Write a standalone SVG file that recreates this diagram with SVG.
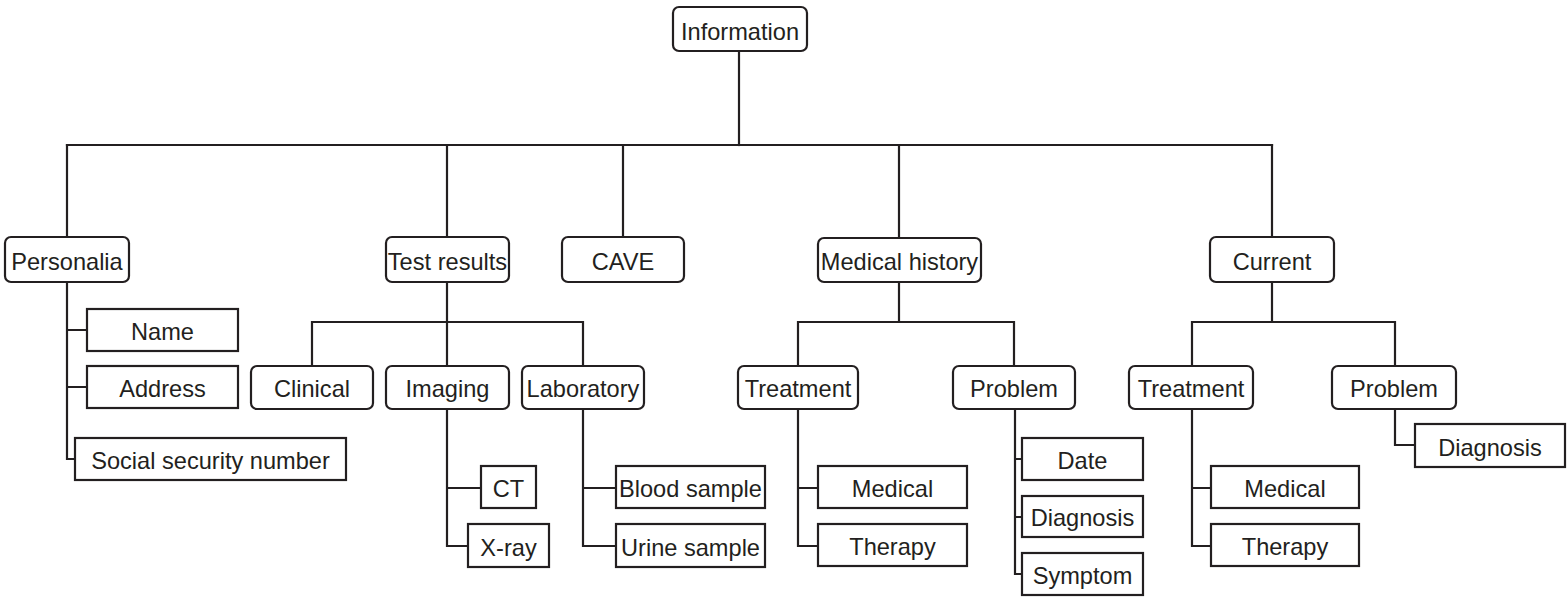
<svg xmlns="http://www.w3.org/2000/svg" width="1567" height="600" viewBox="0 0 1567 600">
  <style>
    .box { fill: #ffffff; stroke: #231f20; stroke-width: 2.2; }
    .lbl { font-family: "Liberation Sans", Arial, sans-serif; font-size: 23.6px; fill: #231f20; text-anchor: middle; }
    .wire { fill: none; stroke: #231f20; stroke-width: 2.2; stroke-linecap: square; stroke-linejoin: miter; }
  </style>
  <rect width="1567" height="600" fill="#ffffff"/>

  <!-- connectors -->
  <g id="connectors" class="wire">
    <path d="M739,51 V145"/>
    <path d="M67,145 H1272"/>
    <path d="M67,145 V237 M447,145 V237 M623,145 V237 M899,145 V238 M1272,145 V237"/>
    <!-- Personalia -->
    <path d="M67,282 V459 H75 M67,330 H87 M67,387 H87"/>
    <!-- Test results -->
    <path d="M447,282 V322 M312,322 H583 M312,322 V366 M447,322 V366 M583,322 V366"/>
    <path d="M447,409 V546 H468 M447,488 H481"/>
    <path d="M583,409 V546 H616 M583,488 H616"/>
    <!-- Medical history -->
    <path d="M899,282 V322 M798,322 H1014 M798,322 V366 M1014,322 V366"/>
    <path d="M798,409 V546 H818 M798,488 H818"/>
    <path d="M1015,409 V574 H1022 M1015,459 H1022 M1015,517 H1022"/>
    <!-- Current -->
    <path d="M1272,282 V322 M1192,322 H1395 M1192,322 V366 M1395,322 V366"/>
    <path d="M1192,409 V546 H1211 M1192,488 H1211"/>
    <path d="M1395,409 V445 H1415"/>
  </g>

  <!-- root -->
  <g id="information"><rect class="box" x="673" y="7" width="134" height="44" rx="6"/><text class="lbl" x="740" y="40">Information</text></g>

  <!-- first level -->
  <g id="personalia"><rect class="box" x="5" y="237" width="124" height="45" rx="6"/><text class="lbl" x="67" y="270">Personalia</text></g>
  <g id="test-results"><rect class="box" x="386" y="237" width="123" height="45" rx="6"/><text class="lbl" x="447.5" y="270">Test results</text></g>
  <g id="cave"><rect class="box" x="562" y="237" width="122" height="45" rx="6"/><text class="lbl" x="623" y="270">CAVE</text></g>
  <g id="medical-history"><rect class="box" x="818" y="238" width="163" height="44" rx="6"/><text class="lbl" x="899.5" y="270">Medical history</text></g>
  <g id="current"><rect class="box" x="1210" y="237" width="124" height="45" rx="6"/><text class="lbl" x="1272" y="270">Current</text></g>

  <!-- Personalia items -->
  <g id="name"><rect class="box" x="87" y="309" width="151" height="42"/><text class="lbl" x="162.5" y="340">Name</text></g>
  <g id="address"><rect class="box" x="87" y="366" width="151" height="42"/><text class="lbl" x="162.5" y="397">Address</text></g>
  <g id="ssn"><rect class="box" x="75" y="438" width="271" height="42"/><text class="lbl" x="210.5" y="469">Social security number</text></g>

  <!-- Test results items -->
  <g id="clinical"><rect class="box" x="251" y="366" width="122" height="43" rx="6"/><text class="lbl" x="312" y="397">Clinical</text></g>
  <g id="imaging"><rect class="box" x="386" y="366" width="123" height="43" rx="6"/><text class="lbl" x="447.5" y="397">Imaging</text></g>
  <g id="laboratory"><rect class="box" x="522" y="366" width="122" height="43" rx="6"/><text class="lbl" x="583" y="397">Laboratory</text></g>
  <g id="ct"><rect class="box" x="481" y="466" width="55" height="42"/><text class="lbl" x="508.5" y="497">CT</text></g>
  <g id="x-ray"><rect class="box" x="468" y="524" width="81" height="43"/><text class="lbl" x="508.5" y="556">X-ray</text></g>
  <g id="blood-sample"><rect class="box" x="616" y="466" width="149" height="42"/><text class="lbl" x="690.5" y="497">Blood sample</text></g>
  <g id="urine-sample"><rect class="box" x="616" y="524" width="149" height="43"/><text class="lbl" x="690.5" y="556">Urine sample</text></g>

  <!-- Medical history items -->
  <g id="mh-treatment"><rect class="box" x="738" y="366" width="120" height="43" rx="6"/><text class="lbl" x="798" y="397">Treatment</text></g>
  <g id="mh-problem"><rect class="box" x="953" y="366" width="122" height="43" rx="6"/><text class="lbl" x="1014" y="397">Problem</text></g>
  <g id="mh-medical"><rect class="box" x="818" y="466" width="149" height="42"/><text class="lbl" x="892.5" y="497">Medical</text></g>
  <g id="mh-therapy"><rect class="box" x="818" y="524" width="149" height="42"/><text class="lbl" x="892.5" y="555">Therapy</text></g>
  <g id="mh-date"><rect class="box" x="1022" y="438" width="121" height="42"/><text class="lbl" x="1082.5" y="469">Date</text></g>
  <g id="mh-diagnosis"><rect class="box" x="1022" y="496" width="121" height="41"/><text class="lbl" x="1082.5" y="526">Diagnosis</text></g>
  <g id="mh-symptom"><rect class="box" x="1022" y="553" width="121" height="42"/><text class="lbl" x="1082.5" y="584">Symptom</text></g>

  <!-- Current items -->
  <g id="cur-treatment"><rect class="box" x="1129" y="366" width="124" height="43" rx="6"/><text class="lbl" x="1191" y="397">Treatment</text></g>
  <g id="cur-problem"><rect class="box" x="1332" y="366" width="124" height="43" rx="6"/><text class="lbl" x="1394" y="397">Problem</text></g>
  <g id="cur-diagnosis"><rect class="box" x="1415" y="424" width="150" height="43"/><text class="lbl" x="1490" y="456">Diagnosis</text></g>
  <g id="cur-medical"><rect class="box" x="1211" y="466" width="148" height="42"/><text class="lbl" x="1285" y="497">Medical</text></g>
  <g id="cur-therapy"><rect class="box" x="1211" y="524" width="148" height="42"/><text class="lbl" x="1285" y="555">Therapy</text></g>
</svg>
